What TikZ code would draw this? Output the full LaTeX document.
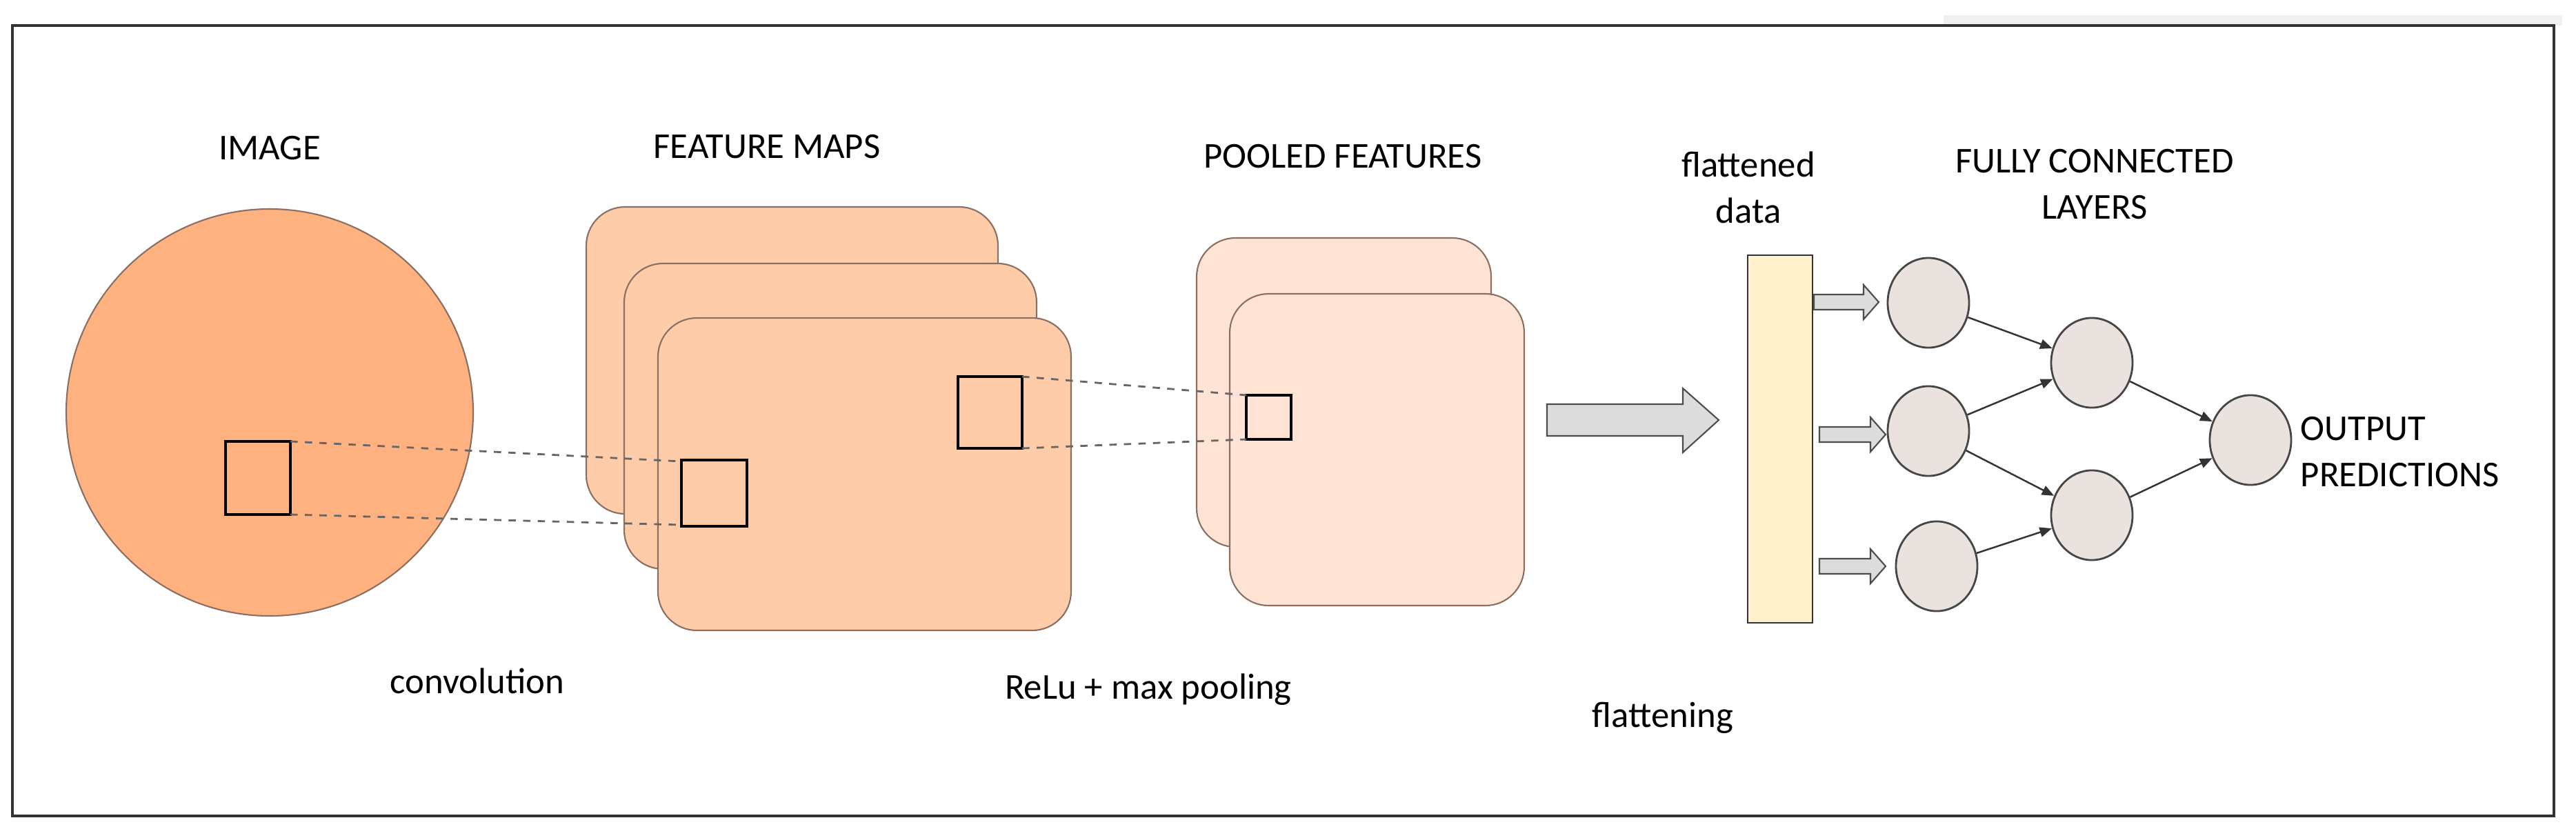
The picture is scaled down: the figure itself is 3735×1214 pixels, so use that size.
\documentclass[tikz,border=0pt]{standalone}
\usepackage{fontspec}
\setmainfont{Carlito}
\usetikzlibrary{arrows.meta,shapes.geometric}
\definecolor{imgfill}{HTML}{FFB17F}
\definecolor{mapfill}{HTML}{FFCCAA}
\definecolor{poolfill}{HTML}{FFE4D6}
\definecolor{barfill}{HTML}{FFF2CC}
\definecolor{nodefill}{HTML}{EAE2DE}
\definecolor{edge}{HTML}{8A6F62}
\definecolor{arrfill}{HTML}{DCDCDC}
\begin{document}
\begin{tikzpicture}[x=0.01cm,y=-0.01cm,
  lbl/.style={font=\fontsize{15}{17}\selectfont,align=center,inner sep=0pt},
  fmap/.style={draw=edge,line width=0.6pt,fill=mapfill,rounded corners=16pt},
  pmap/.style={draw=edge,line width=0.6pt,fill=poolfill,rounded corners=16pt},
  win/.style={draw=black,line width=1.1pt},
  dline/.style={draw=gray!80!black,dashed,line width=0.8pt},
  neuron/.style={ellipse,draw=gray!55!black,line width=0.8pt,fill=nodefill,minimum width=1.18cm,minimum height=1.3cm,inner sep=0pt},
  blk/.style={draw=gray!60!black,line width=0.6pt,fill=arrfill},
  conn/.style={draw=gray!40!black,line width=0.7pt,-{Triangle[length=5pt,width=4pt]}}]
\useasboundingbox (0,0) rectangle (3735,1214);
\fill[gray!12] (2818,22) rectangle (3715,37);
\draw[line width=0.9pt,black!80] (18,37) rectangle (3703,1183);
% image
\draw[draw=edge,line width=0.6pt,fill=imgfill] (391,598) circle (295);
\node[lbl] (limg) at (391,215) {IMAGE};
\draw[win] (327,640) rectangle (421,746);
\coordinate (w0tr) at (421,640); \coordinate (w0br) at (421,746);
% feature maps
\node[lbl] (lfm) at (1112,213) {FEATURE MAPS};
\draw[fmap] (850,300) rectangle (1447,745);
\draw[fmap] (905,382) rectangle (1503,825);
\draw[fmap] (954,461) rectangle (1553,914);
\draw[win] (988,667) rectangle (1083,763);
\coordinate (w1tl) at (988,669); \coordinate (w1bl) at (988,761);
\draw[win] (1389,546) rectangle (1482,650);
\coordinate (w2tr) at (1482,546); \coordinate (w2br) at (1482,650);
\draw[dline] (w0tr) -- (w1tl);
\draw[dline] (w0br) -- (w1bl);
% pooled
\node[lbl] (lpool) at (1947,227) {POOLED FEATURES};
\draw[pmap] (1735,345) rectangle (2162,793);
\draw[pmap] (1783,426) rectangle (2210,878);
\draw[win] (1807,573) rectangle (1872,637);
\coordinate (w3tl) at (1807,573); \coordinate (w3bl) at (1807,637);
\draw[dline] (w2tr) -- (w3tl);
\draw[dline] (w2br) -- (w3bl);
% labels
\node[lbl] (lconv) at (692,987) {convolution};
\node[lbl] (lrelu) at (1665,1000) {ReLu + max pooling};
\node[lbl] (lflat) at (2411,1041) {flattening};
% big arrow
\draw[blk] (2243,586) -- (2440,586) -- (2440,563) -- (2492,609) -- (2440,656) -- (2440,632) -- (2243,632) -- cycle;
% flattened bar
\node[lbl] (lfd) at (2535,272) {flattened\\[2pt]data};
\draw[draw=black!80,line width=0.8pt,fill=barfill] (2534,370) rectangle (2628,903);
% small arrows
\foreach \xa/\xb/\yy in {2630/2724/438,2638/2734/630,2638/2734/821}{
  \draw[blk] (\xa,\yy-11) -- (\xb-22,\yy-11) -- (\xb-22,\yy-25) -- (\xb,\yy) -- (\xb-22,\yy+25) -- (\xb-22,\yy+11) -- (\xa,\yy+11) -- cycle;}
% neurons
\node[neuron] (n1) at (2796,439) {};
\node[neuron] (n2) at (2796,625) {};
\node[neuron] (n3) at (2808,821) {};
\node[neuron] (h1) at (3033,526) {};
\node[neuron] (h2) at (3033,747) {};
\node[neuron] (o) at (3263,638) {};
\draw[conn] (n1) -- (h1);
\draw[conn] (n2) -- (h1);
\draw[conn] (n2) -- (h2);
\draw[conn] (n3) -- (h2);
\draw[conn] (h1) -- (o);
\draw[conn] (h2) -- (o);
\node[lbl] (lfc) at (3037,267) {FULLY CONNECTED\\[2pt]LAYERS};
\node[lbl,align=left,anchor=west] (lout) at (3335,655) {OUTPUT\\[2pt]PREDICTIONS};
\end{tikzpicture}
\end{document}
